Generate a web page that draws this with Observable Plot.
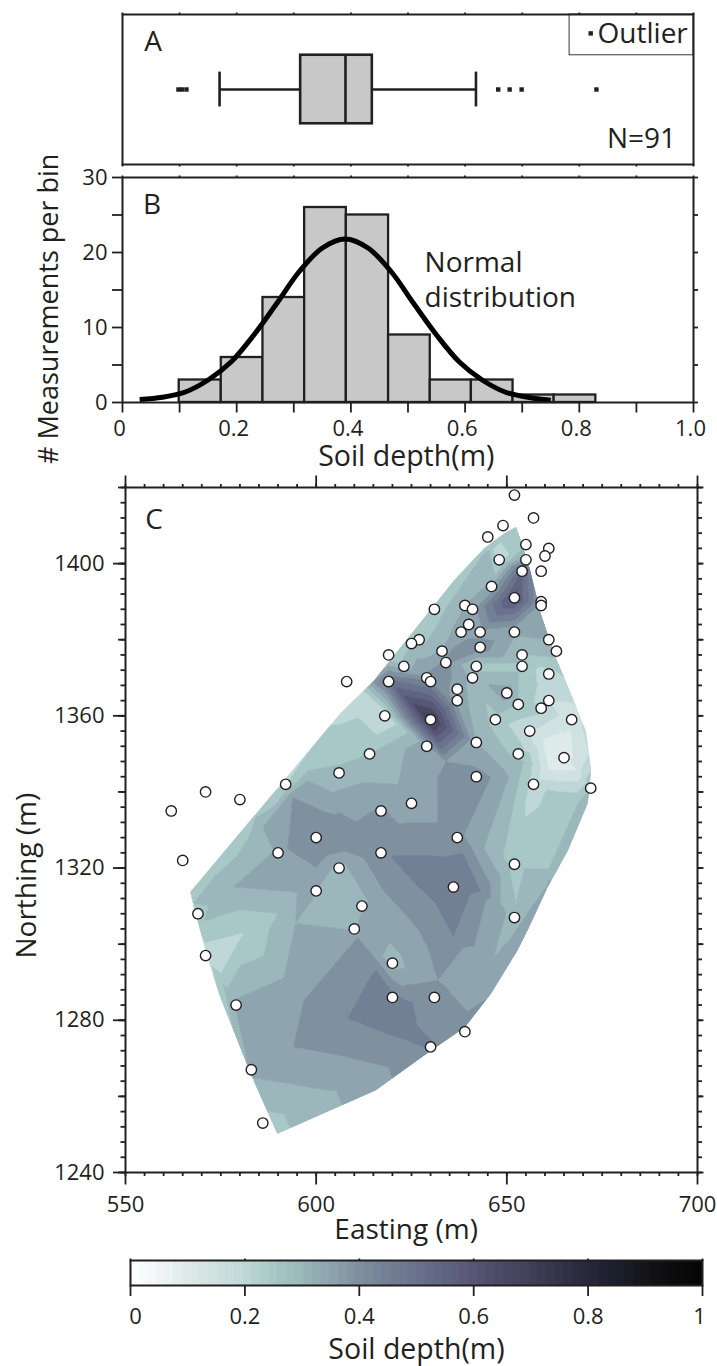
<!DOCTYPE html>
<html><head><meta charset="utf-8">
<script src="https://cdn.jsdelivr.net/npm/d3@7"></script>
<script src="https://cdn.jsdelivr.net/npm/@observablehq/plot@0.6"></script>
<style>html,body{margin:0;padding:0;background:#fff}svg{display:block}</style>
</head><body><div id="c"></div>
<script>
const ink = "#231f20", font = "Open Sans";
// Panel A
const boxQ = [0.312, 0.3905, 0.4375];
const whisk = [0.17, 0.619];
const outliers = [0.098, 0.104, 0.112, 0.658, 0.678, 0.699, 0.83];
// Panel B
const binEdges = [0.0993,0.173,0.246,0.319,0.392,0.466,0.539,0.611,0.684,0.756,0.829];
const binCounts = [3,6,14,26,25,9,3,3,1,1];
const curveX = [0.03,0.07,0.11,0.15,0.19,0.23,0.27,0.31,0.35,0.39,0.43,0.47,0.51,0.55,0.59,0.63,0.67,0.71,0.75];
const curveY = [0.4,0.7,1.4,3,5.4,9,13.2,17.5,20.6,21.8,20.6,17.5,13.2,9,5.4,3,1.4,0.7,0.3];
// Panel C: easting, northing, soil depth
const east = [652,657,649,645,655,661,660,648,655,654,659,646,652,659,659,639,641,631,640,638,643,652,627,625,661,663,643,633,619,654,634,623,642,654,661,641,629,630,608,619,637,650,637,661,653,659,618,667,630,647,656,642,629,614,653,665,642,657,672,606,625,592,571,580,562,617,600,590,617,637,565,606,652,600,636,569,612,610,652,571,620,620,631,579,639,630,583,586];
const north = [1418,1412,1410,1407,1405,1404,1402,1401,1401,1398,1398,1394,1391,1390,1389,1389,1388,1388,1384,1382,1382,1382,1380,1379,1380,1377,1378,1377,1376,1376,1374,1373,1373,1373,1371,1370,1370,1369,1369,1369,1367,1366,1364,1364,1363,1362,1360,1359,1359,1359,1356,1353,1352,1350,1350,1349,1344,1342,1341,1345,1337,1342,1340,1338,1335,1335,1328,1324,1324,1328,1322,1320,1321,1314,1315,1308,1310,1304,1307,1297,1295,1286,1286,1284,1277,1273,1267,1253];
const depth = [0.3,0.3,0.28,0.28,0.3,0.3,0.32,0.22,0.4,0.55,0.35,0.36,0.63,0.38,0.38,0.35,0.38,0.27,0.42,0.38,0.38,0.36,0.28,0.3,0.35,0.33,0.43,0.35,0.24,0.3,0.42,0.32,0.28,0.28,0.22,0.33,0.42,0.45,0.2,0.52,0.38,0.38,0.38,0.2,0.3,0.27,0.2,0.15,0.74,0.28,0.2,0.35,0.38,0.3,0.28,0.12,0.42,0.23,0.3,0.31,0.37,0.25,0.2,0.2,0.2,0.4,0.46,0.36,0.42,0.42,0.22,0.33,0.28,0.35,0.505,0.28,0.33,0.34,0.33,0.22,0.33,0.47,0.42,0.36,0.42,0.455,0.35,0.28];
// Extra field levels read between the measurement points
const fieldE = [620,638.5,643,636,631.5,630,609.8,616.1,624.3,618,625,596.7,610.9,594,618.8,589.9,581,575,645.8,638.7,644.5,631.9,650.5,644,648.4,641,646.6,654.5,649,652.4,668.6,661,662,650,659.4,666.8,668.5,661,669.4,669.9,673,672,668,608,610,605,578.3,595,586,597.8,604.3,612.5,621.4,570.6,567.8,578.9,582.3,597.8,593.8,592.5,599.9,603,612.5,617.7,602.5,617,621.6,631.9,631.9,634,594.6,582.8,603,600.4];
const fieldN = [1323,1323.6,1314,1302.5,1311,1318,1280.8,1292.3,1284.5,1280,1276,1285.2,1301.8,1273,1267.7,1308,1303,1292.4,1343.9,1328.6,1311.5,1290.5,1343.9,1325.2,1310.8,1295.8,1296.6,1348.3,1323,1310.8,1337,1320,1316,1294,1354,1356,1345.6,1345.6,1345.7,1360.7,1350,1358,1368,1325,1330,1333,1315,1313.6,1330.7,1343,1339.9,1342.6,1342,1306,1310.7,1322.8,1328,1345.7,1338.6,1325,1320.2,1323.4,1322.6,1314,1334.7,1336.5,1331.8,1332,1343.9,1348,1305.5,1265,1261.6,1313.6];
const fieldV = [.452,.452,.452,.452,.452,.48,.455,.455,.455,.47,.46,.4,.4,.4,.4,.3,.25,.25,.4,.4,.4,.4,.35,.35,.35,.35,.35,.3,.3,.3,.3,.3,.36,.38,.15,.15,.15,.15,.2,.2,.22,.24,.25,.41,.41,.41,.35,.35,.35,.35,.35,.35,.35,.3,.3,.3,.3,.3,.4,.4,.4,.4,.4,.4,.4,.4,.4,.4,.4,.4,.35,.35,.35,.35];
const edgeE = [589.8,615.6,630,639,645.8,652.8,655.4,660.7,666,671.2,672,672,670.7,666.8,662.4,658.9,655.9,653.7,652.4,649.3,644,636.2,627.4,615.2,606.4,567,567.9,571,574.5,582.8];
const edgeN = [1250.2,1261.6,1272,1278.2,1287,1298.4,1303.6,1315,1324.6,1337,1344.8,1346.5,1356,1365.8,1376.3,1386.8,1399,1406,1409.6,1407.9,1404,1395.6,1384.6,1369.3,1360.7,1313.7,1309.7,1298.4,1287,1266];
// Colour ramp
const rampAt = [0,.05,.1,.15,.2,.25,.3,.35,.4,.45,.5,.55,.6,.65,.7,.75,.8,.85,.9,.95,1];
const rampCol = ["#ffffff","#f0f6f7","#dfeaea","#cfe1e0","#bfd8d7","#a7c8c6","#9bb7bb","#8ea4ae","#7f909f","#737f94","#6a728c","#5f6483","#575674","#4a4864","#413f58","#33334a","#28283a","#1b1e2c","#141419","#0c0c0e","#050505"];
const levels = d3.range(0,1,0.05).map(d=>+d.toFixed(2));
const barSteps = d3.range(0,1,1/66);

const colorOpt = {type:"linear",domain:rampAt,range:rampCol,interpolate:"rgb"};
const txt = (s,o)=>Plot.text([s],{text:d=>d,fill:ink,fontSize:28,lineAnchor:"bottom",...o});
const base = {width:717,style:{fontFamily:font,background:"white",overflow:"visible",color:ink}};
const ax = {stroke:ink,strokeWidth:1.8,label:null,fill:ink};
const none = ()=>"";
const tf = 22;

const A = Plot.plot({...base,height:170,marginTop:14,marginBottom:6,marginLeft:122,marginRight:24,
 x:{domain:[0,1]},y:{domain:[0,1]},
 marks:[
  Plot.axisX(d3.range(0,1.01,.1),{...ax,anchor:"top",tickSize:2.5,tickFormat:none}),
  Plot.axisX(d3.range(0,1.01,.1),{...ax,anchor:"bottom",tickSize:2.5,tickFormat:none}),
  Plot.axisY([],{anchor:"left",label:null}),
  Plot.rect([0],{x1:.783,x2:1,y1:.728,y2:1,fill:"white",stroke:ink,strokeWidth:.9}),
  Plot.frame({stroke:ink,strokeWidth:2}),
  Plot.ruleY([.5],{x1:whisk[0],x2:whisk[1],stroke:ink,strokeWidth:2.6}),
  Plot.ruleX(whisk,{y1:.384,y2:.616,stroke:ink,strokeWidth:2.6}),
  Plot.rect([0],{x1:boxQ[0],x2:boxQ[2],y1:.2715,y2:.7285,fill:"#c8c8c8",stroke:ink,strokeWidth:2.6}),
  Plot.ruleX([boxQ[1]],{y1:.2715,y2:.7285,stroke:ink,strokeWidth:2.6}),
  Plot.dot(outliers,{x:d=>d,y:.5,symbol:"square",r:2.5,fill:ink,stroke:"none"}),
  Plot.dot([.82],{x:d=>d,y:.874,symbol:"square",r:2.5,fill:ink,stroke:"none"}),
  txt("A",{x:.038,y:.76,textAnchor:"start"}),
  txt("Outlier",{x:.832,y:.808,textAnchor:"start"}),
  txt("N=91",{x:.909,y:.113,textAnchor:"middle",fontSize:28})
 ]});

const bins = binCounts.map((c,i)=>({a:binEdges[i],b:binEdges[i+1],c}));
const fmtB = d=> d===0?"0":d===1?"1.0":d.toFixed(1);
const B = Plot.plot({...base,height:300,marginTop:7,marginBottom:68,marginLeft:122,marginRight:24,
 x:{domain:[0,1]},y:{domain:[0,30]},
 marks:[
  Plot.rectY(bins,{x1:"a",x2:"b",y1:0,y2:"c",fill:"#c8c8c8",stroke:ink,strokeWidth:2.3}),
  Plot.line(curveX.map((x,i)=>[x,curveY[i]]),{x:d=>d[0],y:d=>d[1],curve:"catmull-rom",stroke:"#000",strokeWidth:5,strokeLinecap:"butt"}),
  Plot.frame({stroke:ink,strokeWidth:2}),
  Plot.axisX(d3.range(0,1.01,.1),{...ax,anchor:"top",tickSize:2.5,tickFormat:none}),
  Plot.axisX(d3.range(0,1.01,.1),{...ax,anchor:"bottom",tickSize:10.5,tickFormat:none}),
  Plot.axisX([0,.2,.4,.6,.8,1],{...ax,anchor:"bottom",tickSize:0,tickPadding:18,fontSize:tf,dx:-3,tickFormat:fmtB,stroke:"none"}),
  Plot.axisY(d3.range(0,31,5),{...ax,anchor:"left",tickSize:10,tickFormat:none}),
  Plot.axisY([0,10,20,30],{...ax,anchor:"left",tickSize:10,tickPadding:5,fontSize:tf,stroke:"none"}),
  Plot.axisY(d3.range(0,31,5),{...ax,anchor:"right",tickSize:4,tickFormat:none}),
  txt("B",{x:.036,y:25.1,textAnchor:"start"}),
  txt("Normal",{x:.529,y:17.4,textAnchor:"start"}),
  txt("distribution",{x:.529,y:12.7,textAnchor:"start"}),
  txt("Soil depth(m)",{x:.497,frameAnchor:"bottom",dy:63,fontSize:28.5}),
  txt("# Measurements per bin",{y:12.5,frameAnchor:"left",dx:-65,rotate:-90,fontSize:27,textAnchor:"middle"})
 ]});

const pts = east.map((e,i)=>({e,n:north[i],v:depth[i]}));
const field = pts.concat(fieldE.map((e,i)=>({e,n:fieldN[i],v:fieldV[i]})));
const ring = edgeE.map((e,i)=>[e,edgeN[i]]); ring.push(ring[0]);
const C = Plot.plot({...base,height:780,marginTop:17,marginBottom:78,marginLeft:125,marginRight:20,
 x:{domain:[550,700]},y:{domain:[1240,1420]},color:colorOpt,
 marks:[
  Plot.contour(field,{x:"e",y:"n",fill:"v",interpolate:"barycentric",thresholds:levels,pixelSize:1,blur:0,smooth:false,stroke:"none",clip:{type:"Polygon",coordinates:[ring]}}),
  Plot.frame({stroke:ink,strokeWidth:2}),
  ...["bottom","top"].flatMap(a=>[
   Plot.axisX(d3.range(550,701,5),{...ax,anchor:a,tickSize:4,tickFormat:none}),
   Plot.axisX(d3.range(550,701,50),{...ax,anchor:a,tickSize:12.5,tickFormat:none})]),
  Plot.axisX(d3.range(550,701,50),{...ax,anchor:"bottom",tickSize:0,tickPadding:24,fontSize:tf,tickFormat:String,stroke:"none"}),
  Plot.axisY(d3.range(1240,1421,4),{...ax,anchor:"left",tickSize:4.5,tickFormat:none}),
  Plot.axisY(d3.range(1240,1421,20),{...ax,anchor:"left",tickSize:7,tickFormat:none}),
  Plot.axisY(d3.range(1240,1421,40),{...ax,anchor:"left",tickSize:12,tickPadding:9,fontSize:tf,tickFormat:String}),
  Plot.axisY(d3.range(1240,1421,4),{...ax,anchor:"right",tickSize:4,tickFormat:none}),
  Plot.axisY(d3.range(1240,1421,20),{...ax,anchor:"right",tickSize:5.5,tickFormat:none}),
  Plot.dot(pts,{x:"e",y:"n",r:5.2,fill:"white",stroke:ink,strokeWidth:1.4}),
  txt("C",{x:555.2,y:1409,textAnchor:"start"}),
  txt("Easting (m)",{x:623.6,frameAnchor:"bottom",dy:66}),
  txt("Northing (m)",{y:1318,frameAnchor:"left",dx:-90,rotate:-90,textAnchor:"middle"})
 ]});

const D = Plot.plot({...base,height:116,marginTop:10,marginBottom:81,marginLeft:130,marginRight:15,
 x:{domain:[0,1]},color:colorOpt,
 marks:[
  Plot.rect(barSteps,{x1:d=>d,x2:d=>d+1/66,fill:d=>d+1/132,stroke:"none",shapeRendering:"crispEdges"}),
  Plot.frame({stroke:ink,strokeWidth:2}),
  Plot.axisX([0,.2,.4,.6,.8,1],{...ax,anchor:"top",tickSize:2.5,tickFormat:none}),
  Plot.axisX([0,.2,.4,.6,.8,1],{...ax,anchor:"bottom",tickSize:11,tickFormat:none}),
  Plot.axisX([.2,.4,.6,.8],{...ax,anchor:"bottom",tickSize:0,tickPadding:23,fontSize:tf,tickFormat:d=>d.toFixed(1),stroke:"none"}),
  txt("0",{x:0,dx:5,frameAnchor:"bottom",dy:38,fontSize:tf}),
  txt("1",{x:1,dx:-3,frameAnchor:"bottom",dy:38,fontSize:tf}),
  txt("Soil depth(m)",{x:.5,frameAnchor:"bottom",dy:73,fontSize:28.5})
 ]});

document.getElementById("c").append(A,B,C,D);
</script></body></html>
